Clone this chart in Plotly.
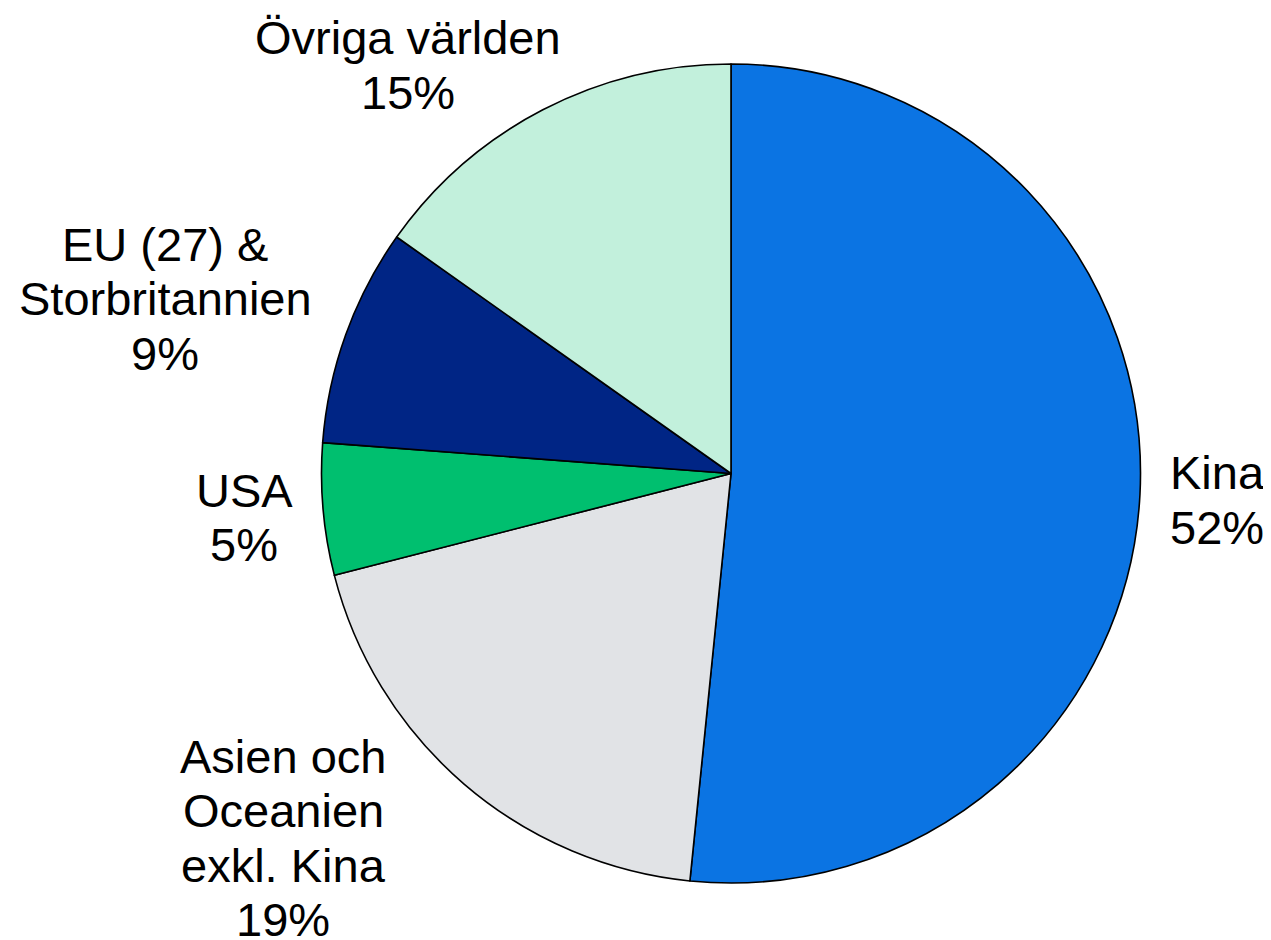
import plotly.graph_objects as go

# Data
regions = ["Kina", "Asien och Oceanien exkl. Kina", "USA", "EU (27) & Storbritannien", "Övriga världen"]
label_lines = [["Kina"], ["Asien och", "Oceanien", "exkl. Kina"], ["USA"], ["EU (27) &", "Storbritannien"], ["Övriga världen"]]
shares = [51.6, 19.4, 5.2, 8.6, 15.2]
colors = ["#0B74E3", "#E1E3E6", "#00BF6F", "#002585", "#C2F0DC"]

# page offset of the plot div (default body margin)
OFF = 8
W, H = 1271 - 2 * OFF, 940 - OFF
cx, cy, r = 731 - OFF, 473.5 - OFF, 409.5

# label layout (page pixels): (center x, cap-center y of first line), line step
label_pos = [(1217, 473), (283, 756), (244, 490), (165, 244), (408, 38)]
line_step = 54.5
font_size = 47

fig = go.Figure(go.Pie(
    labels=regions,
    values=shares,
    sort=False,
    direction="clockwise",
    rotation=0,
    marker=dict(colors=colors, line=dict(color="black", width=1.6)),
    textinfo="none",
    hoverinfo="label+percent",
    showlegend=False,
    domain=dict(x=[(cx - r) / W, (cx + r) / W], y=[1 - (cy + r) / H, 1 - (cy - r) / H]),
))

annotations = []
for lines, share, (px, py) in zip(label_lines, shares, label_pos):
    all_lines = lines + [f"{round(share)}%"]
    for i, t in enumerate(all_lines):
        x_pix = px - OFF
        y_pix = py - OFF + i * line_step
        annotations.append(dict(
            text=t, x=x_pix / W, y=1 - y_pix / H, xref="paper", yref="paper",
            xanchor="center", yanchor="middle", showarrow=False,
            font=dict(family="Liberation Sans, Arial, sans-serif", size=font_size, color="black"),
        ))

fig.update_layout(
    width=W, height=H,
    margin=dict(l=0, r=0, t=0, b=0),
    paper_bgcolor="white", plot_bgcolor="white",
    annotations=annotations,
)

fig.write_html("out.html")
